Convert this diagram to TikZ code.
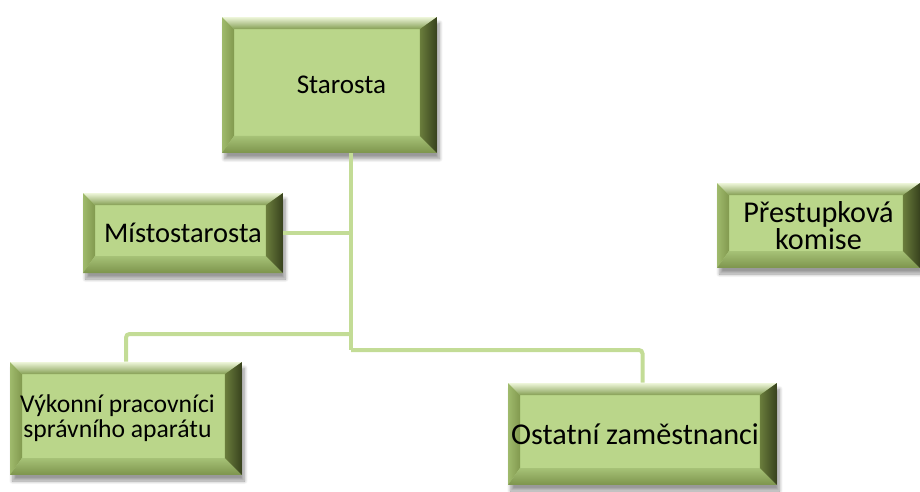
\documentclass[tikz,border=0pt]{standalone}
\usepackage{fontspec}
\setmainfont{Carlito}
\usetikzlibrary{shadows.blur}

\definecolor{facegreen}{HTML}{BAD68A}
\definecolor{linkgreen}{HTML}{C3DC96}
\definecolor{bevleftA}{HTML}{9FBA6C}
\definecolor{bevleftB}{HTML}{82994F}
\definecolor{bevtopA}{HTML}{EEF6DA}
\definecolor{bevtopB}{HTML}{C9DFA0}
\definecolor{bevtopC}{HTML}{86A055}
\definecolor{bevbotA}{HTML}{A6C277}
\definecolor{bevbotB}{HTML}{E4F0C8}
\definecolor{bevbotC}{HTML}{7D944C}
\definecolor{bevrightA}{HTML}{6A7D3C}
\definecolor{bevrightB}{HTML}{37411D}

\tikzset{
  link/.style={draw=linkgreen, line width=0.08cm, rounded corners=2pt},
  orgbox/.style={fill=facegreen, inner sep=0pt, align=center,
    blur shadow={shadow xshift=0.05cm, shadow yshift=-0.12cm, shadow opacity=40, shadow blur steps=8},
    path picture={
      \coordinate (nw) at (path picture bounding box.north west);
      \coordinate (ne) at (path picture bounding box.north east);
      \coordinate (sw) at (path picture bounding box.south west);
      \coordinate (se) at (path picture bounding box.south east);
      \coordinate (inw) at ([xshift=0.24cm,yshift=-0.24cm]nw);
      \coordinate (ine) at ([xshift=-0.34cm,yshift=-0.24cm]ne);
      \coordinate (isw) at ([xshift=0.24cm,yshift=0.34cm]sw);
      \coordinate (ise) at ([xshift=-0.34cm,yshift=0.34cm]se);
      % left bevel
      \shade [left color=bevleftA, right color=bevleftB] (nw) -- (inw) -- (isw) -- (sw) -- cycle;
      % top bevel
      \shade [top color=bevtopA, middle color=bevtopB, bottom color=bevtopC] (nw) -- (ne) -- (ine) -- (inw) -- cycle;
      % bottom bevel
      \shade [top color=bevbotA, middle color=bevbotB, bottom color=bevbotC] (sw) -- (isw) -- (ise) -- (se) -- cycle;
      % right bevel
      \shade [left color=bevrightA, right color=bevrightB] (ne) -- (se) -- (ise) -- (ine) -- cycle;
    }},
}

\begin{document}
\begin{tikzpicture}[x=0.02cm,y=-0.02cm]
  \useasboundingbox (0,0) rectangle (920,491);

  % Drawing box Starosta
  \node [orgbox, minimum width=4.3cm, minimum height=2.72cm, font=\fontsize{15.4}{17}\selectfont]
    (starosta) at (329.5,85) {\hspace*{0.48cm}Starosta};

  % Drawing box Mistostarosta
  \node [orgbox, minimum width=4.0cm, minimum height=1.6cm, font=\fontsize{16.2}{17}\selectfont]
    (mistostarosta) at (183,233) {Místostarosta};

  % Drawing box Prestupkova komise
  \node [orgbox, minimum width=4.06cm, minimum height=1.7cm, font=\fontsize{17.2}{14}\selectfont]
    (komise) at (818.5,225.5) {Přestupková\\komise};

  % Drawing box Vykonni pracovnici
  \node [orgbox, minimum width=4.64cm, minimum height=2.26cm, font=\fontsize{14.6}{14.4}\selectfont]
    (vykonni) at (126,418.5) {Výkonní pracovníci\hspace*{0.34cm}\\správního aparátu\hspace*{0.34cm}};

  % Drawing box Ostatni zamestnanci
  \node [orgbox, minimum width=5.38cm, minimum height=2.04cm, font=\fontsize{17.2}{18}\selectfont]
    (ostatni) at (642.5,434) {Ostatní zaměstnanci\hspace*{0.3cm}};

  % Drawing connectors
  \coordinate (hub) at (351,350);
  \coordinate (split) at (351,334);
  \draw [link] (starosta.south -| hub) -- (hub);
  \draw [link] (mistostarosta.east) -- (mistostarosta.east -| hub);
  \draw [link] (split) -| (vykonni.north);
  \draw [link] (hub) -| (ostatni.north);
\end{tikzpicture}
\end{document}
